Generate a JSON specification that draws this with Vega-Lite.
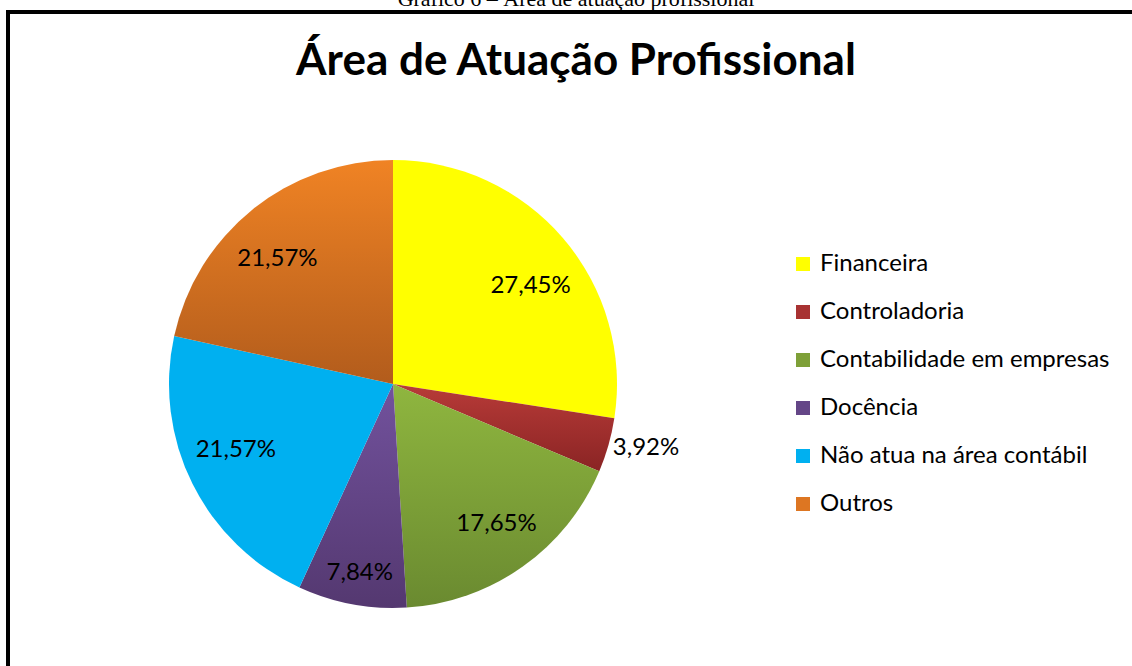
{
  "$schema": "https://vega.github.io/schema/vega-lite/v6.json",
  "width": 448,
  "height": 448,
  "autosize": {"type": "none"},
  "padding": {"left": 169, "top": 160, "right": 515, "bottom": 58},
  "background": "white",
  "config": {
    "view": {"stroke": null},
    "text": {"font": "Lato", "fontSize": 24, "color": "black"},
    "locale": {"number": {"decimal": ",", "thousands": ".", "grouping": [3], "currency": ["R$", ""]}}
  },
  "title": {
    "text": "Gráfico 6 – Área de atuação profissional",
    "subtitle": "Área de Atuação Profissional",
    "anchor": "middle",
    "frame": "group",
    "dx": 183,
    "offset": -75,
    "font": "Liberation Serif",
    "fontSize": 22,
    "fontWeight": "normal",
    "color": "black",
    "subtitleFont": "Lato",
    "subtitleFontSize": 44,
    "subtitleFontWeight": "bold",
    "subtitleColor": "black",
    "subtitlePadding": 29
  },
  "data": {
    "values": [
      {"cat": "Financeira", "share": 0.2745, "ord": 1},
      {"cat": "Controladoria", "share": 0.0392, "ord": 2},
      {"cat": "Contabilidade em empresas", "share": 0.1765, "ord": 3},
      {"cat": "Docência", "share": 0.0784, "ord": 4},
      {"cat": "Não atua na área contábil", "share": 0.2157, "ord": 5},
      {"cat": "Outros", "share": 0.2157, "ord": 6}
    ]
  },
  "layer": [
    {
      "data": {"values": [{}]},
      "mark": {"type": "rect", "fill": null, "stroke": "black", "strokeWidth": 4},
      "encoding": {
        "x": {"value": -161},
        "y": {"value": -148},
        "x2": {"value": 1200},
        "y2": {"value": 700}
      }
    },
    {
      "mark": {"type": "arc"},
      "encoding": {
        "theta": {"field": "share", "type": "quantitative", "stack": true},
        "order": {"field": "ord", "type": "quantitative"},
        "fill": {
          "condition": [
            {"test": "datum.cat === 'Controladoria'", "value": {"gradient": "linear", "x1": 0, "y1": 0, "x2": 0, "y2": 1, "stops": [{"offset": 0, "color": "#B83B38"}, {"offset": 1, "color": "#8A2424"}]}},
            {"test": "datum.cat === 'Contabilidade em empresas'", "value": {"gradient": "linear", "x1": 0, "y1": 0, "x2": 0, "y2": 1, "stops": [{"offset": 0, "color": "#8FB63F"}, {"offset": 1, "color": "#6A8A30"}]}},
            {"test": "datum.cat === 'Docência'", "value": {"gradient": "linear", "x1": 0, "y1": 0, "x2": 0, "y2": 1, "stops": [{"offset": 0, "color": "#72529D"}, {"offset": 1, "color": "#543870"}]}},
            {"test": "datum.cat === 'Outros'", "value": {"gradient": "linear", "x1": 0, "y1": 0, "x2": 0, "y2": 1, "stops": [{"offset": 0, "color": "#F08324"}, {"offset": 1, "color": "#B25C1C"}]}}
          ],
          "field": "cat",
          "type": "nominal",
          "scale": {
            "domain": ["Financeira", "Controladoria", "Contabilidade em empresas", "Docência", "Não atua na área contábil", "Outros"],
            "range": ["#FFFF00", "#A83232", "#7EA038", "#644687", "#00B0F0", "#DD7622"]
          },
          "legend": {
            "orient": "none",
            "legendX": 622,
            "legendY": 92,
            "title": null,
            "symbolType": "square",
            "symbolSize": 196,
            "symbolStrokeWidth": 0,
            "symbolOpacity": 1,
            "labelFont": "Lato",
            "labelFontSize": 24,
            "labelColor": "black",
            "labelOffset": 5,
            "labelLimit": 400,
            "rowPadding": 24
          }
        }
      }
    },
    {
      "mark": {"type": "text", "radius": 168, "dx": 10, "dy": 11},
      "encoding": {
        "theta": {"field": "share", "type": "quantitative", "stack": true},
        "order": {"field": "ord", "type": "quantitative"},
        "text": {"condition": {"test": "datum.cat !== 'Financeira'", "value": ""}, "field": "share", "type": "quantitative", "format": ".2%"}
      }
    },
    {
      "mark": {"type": "text", "radius": 261, "dx": 2, "dy": -7},
      "encoding": {
        "theta": {"field": "share", "type": "quantitative", "stack": true},
        "order": {"field": "ord", "type": "quantitative"},
        "text": {"condition": {"test": "datum.cat !== 'Controladoria'", "value": ""}, "field": "share", "type": "quantitative", "format": ".2%"}
      }
    },
    {
      "mark": {"type": "text", "radius": 174, "dx": 3, "dy": -2},
      "encoding": {
        "theta": {"field": "share", "type": "quantitative", "stack": true},
        "order": {"field": "ord", "type": "quantitative"},
        "text": {"condition": {"test": "datum.cat !== 'Contabilidade em empresas'", "value": ""}, "field": "share", "type": "quantitative", "format": ".2%"}
      }
    },
    {
      "mark": {"type": "text", "radius": 192, "dx": 2, "dy": 0},
      "encoding": {
        "theta": {"field": "share", "type": "quantitative", "stack": true},
        "order": {"field": "ord", "type": "quantitative"},
        "text": {"condition": {"test": "datum.cat !== 'Docência'", "value": ""}, "field": "share", "type": "quantitative", "format": ".2%"}
      }
    },
    {
      "mark": {"type": "text", "radius": 170, "dx": -5, "dy": -10},
      "encoding": {
        "theta": {"field": "share", "type": "quantitative", "stack": true},
        "order": {"field": "ord", "type": "quantitative"},
        "text": {"condition": {"test": "datum.cat !== 'Não atua na área contábil'", "value": ""}, "field": "share", "type": "quantitative", "format": ".2%"}
      }
    },
    {
      "mark": {"type": "text", "radius": 170, "dx": -9, "dy": 7},
      "encoding": {
        "theta": {"field": "share", "type": "quantitative", "stack": true},
        "order": {"field": "ord", "type": "quantitative"},
        "text": {"condition": {"test": "datum.cat !== 'Outros'", "value": ""}, "field": "share", "type": "quantitative", "format": ".2%"}
      }
    }
  ]
}
